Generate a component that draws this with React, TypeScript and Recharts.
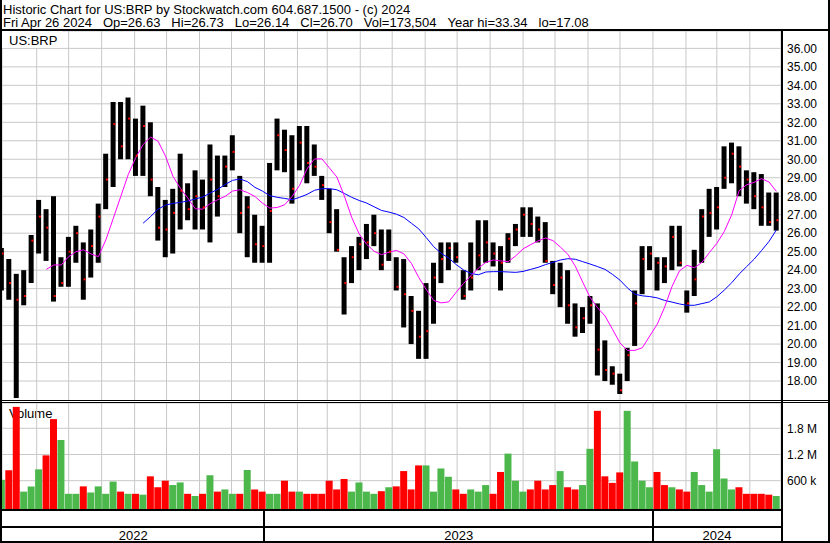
import React from "react";
import { Bar, CartesianGrid, Cell, ComposedChart, Line, XAxis, YAxis } from "recharts";

const FONT = '"Liberation Sans", Arial, sans-serif';

// one bar per week, week ending Friday 2022-04-29 ... 2024-04-26
const highs = [
  25.2, 24.6, 23.8, 24.0, 25.9, 27.8, 27.3, 28.0, 24.7, 25.8,
  26.4, 25.5, 26.2, 27.6, 30.3, 33.1, 33.1, 33.34, 32.2, 32.9,
  32.0, 28.5, 27.8, 28.4, 30.3, 28.7, 29.4, 28.9, 30.8, 30.2,
  30.2, 31.3, 29.1, 28.0, 27.0, 26.4, 29.8, 32.2, 31.6, 31.3,
  31.8, 31.8, 30.8, 29.1, 28.4, 27.3, 24.7, 25.3, 25.8, 26.5,
  27.0, 26.2, 26.2, 24.7, 24.6, 22.6, 21.8, 23.3, 24.4, 25.5,
  25.5, 25.5, 24.0, 25.5, 26.7, 26.7, 25.5, 25.3, 26.0, 26.5,
  27.4, 27.4, 26.9, 26.6, 24.5, 24.4, 24.0, 22.2, 22.0, 22.6,
  22.2, 20.2, 18.8, 18.4, 19.8, 22.9, 25.3, 25.3, 24.7, 24.7,
  26.4, 26.4, 22.9, 25.1, 27.3, 28.4, 28.5, 30.7, 30.9, 30.7,
  29.4, 29.3, 29.2, 28.2, 28.2,
];

const lows = [
  22.9, 22.4, 17.08, 22.1, 23.3, 24.9, 24.5, 22.3, 23.1, 23.1,
  24.4, 22.4, 23.6, 24.4, 27.3, 28.5, 30.0, 30.0, 29.1, 29.1,
  28.0, 25.6, 24.7, 24.9, 26.2, 26.7, 26.2, 26.2, 25.5, 26.9,
  28.5, 29.4, 26.0, 24.7, 24.4, 24.4, 24.4, 29.4, 29.3, 27.6,
  29.4, 28.7, 29.1, 27.8, 26.0, 25.0, 21.6, 23.3, 24.0, 24.6,
  25.3, 24.0, 24.5, 22.9, 20.9, 20.0, 19.2, 19.2, 21.1, 23.3,
  24.0, 24.4, 22.4, 22.9, 24.0, 24.4, 24.2, 22.9, 24.4, 25.3,
  25.8, 25.8, 25.5, 24.4, 22.7, 22.0, 21.1, 20.4, 20.6, 21.1,
  18.3, 18.0, 17.8, 17.3, 18.0, 19.9, 22.7, 24.0, 22.9, 23.3,
  24.0, 24.2, 21.7, 22.6, 24.4, 25.8, 26.2, 28.4, 28.7, 28.0,
  27.6, 27.3, 26.4, 26.4, 26.14,
];

const closes = [
  24.9, 23.3, 22.4, 22.6, 25.6, 26.9, 26.3, 22.6, 23.3, 25.0,
  26.0, 23.5, 25.3, 26.9, 28.9, 31.9, 30.7, 32.2, 30.2, 31.8,
  28.9, 26.3, 26.2, 27.1, 28.3, 27.3, 28.0, 27.4, 28.9, 28.0,
  29.6, 30.4, 27.1, 27.4, 25.4, 25.3, 27.2, 31.3, 30.5, 28.4,
  30.9, 29.8, 29.6, 28.6, 26.6, 25.1, 23.3, 24.7, 25.4, 25.5,
  26.0, 24.3, 25.0, 23.1, 22.7, 21.8, 20.4, 20.7, 23.6, 24.6,
  25.2, 24.7, 22.6, 23.6, 24.8, 25.5, 24.9, 24.4, 25.7, 26.2,
  27.0, 26.5, 26.2, 24.5, 23.2, 23.6, 22.1, 20.9, 21.4, 22.1,
  19.7, 18.6, 18.4, 17.5, 19.4, 22.2, 24.6, 24.9, 24.4, 24.2,
  25.8, 24.4, 22.2, 23.5, 26.9, 27.1, 27.4, 29.0, 30.3, 29.6,
  28.9, 28.0, 27.4, 26.6, 26.7,
];

// magenta moving average
const ma20 = [
  null, null, null, null, null, null, 24.04, 24.28, 24.28, 24.73,
  25.0, 25.1, 24.88, 24.73, 25.64, 26.81, 27.99, 29.17, 30.08, 30.8,
  31.2, 30.98, 30.17, 29.08, 28.43, 27.9, 27.32, 27.3, 27.6, 27.81,
  27.99, 28.28, 28.35, 28.2, 27.99, 27.63, 27.36, 27.39, 27.54, 27.99,
  28.59, 29.48, 30.02, 30.02, 29.53, 29.04, 28.02, 26.85, 25.96, 25.4,
  25.02, 24.84, 24.97, 25.07, 24.88, 24.37, 23.6, 22.95, 22.36, 22.23,
  22.28, 22.79, 23.28, 23.7, 24.11, 24.42, 24.55, 24.5, 24.46, 24.77,
  25.15, 25.38, 25.58, 25.74, 25.6, 25.25, 24.86, 24.22, 23.35, 22.52,
  21.96, 21.52, 20.8, 20.06, 19.66, 19.66, 19.8, 20.44, 21.07, 22.0,
  23.13, 23.97, 24.26, 24.13, 24.42, 24.95, 25.45, 26.09, 27.0, 28.3,
  28.62, 28.75, 28.95, 28.77, 28.26,
];

// blue moving average
const ma50 = [
  null, null, null, null, null, null, null, null, null, null,
  null, null, null, null, null, null, null, null, null, 26.54,
  26.9, 27.3, 27.52, 27.61, 27.67, 27.74, 27.85, 27.96, 28.17, 28.37,
  28.63, 28.86, 28.93, 28.79, 28.48, 28.28, 28.03, 27.94, 27.88, 27.81,
  27.94, 28.1, 28.32, 28.41, 28.41, 28.35, 28.15, 27.94, 27.77, 27.63,
  27.43, 27.23, 27.14, 27.03, 26.85, 26.54, 26.23, 25.76, 25.27, 24.91,
  24.66, 24.31, 24.01, 23.82, 23.75, 23.9, 23.92, 23.92, 23.9, 23.88,
  23.93, 24.04, 24.15, 24.3, 24.42, 24.55, 24.62, 24.59, 24.46, 24.33,
  24.19, 24.04, 23.77, 23.46, 23.04, 22.7, 22.61, 22.57, 22.5, 22.36,
  22.27, 22.17, 22.1, 22.1, 22.19, 22.28, 22.56, 22.92, 23.32, 23.79,
  24.19, 24.59, 25.06, 25.55, 26.18,
];

// thousands of shares
const volumes = [
  620, 840, 2290, 350, 470, 860, 1180, 2010, 1530, 300,
  300, 470, 330, 470, 300, 580, 350, 300, 300, 280,
  700, 450, 600, 500, 560, 300, 250, 300, 725, 350,
  400, 300, 300, 845, 400, 350, 300, 300, 600, 350,
  350, 300, 300, 300, 600, 400, 640, 350, 560, 350,
  300, 360, 450, 470, 820, 400, 950, 950, 350, 880,
  690, 400, 300, 400, 350, 500, 300, 800, 1220, 600,
  350, 400, 600, 400, 500, 820, 450, 400, 500, 1330,
  2200, 700, 550, 790, 2200, 1040, 600, 450, 800, 500,
  450, 400, 350, 800, 500, 350, 1320, 650, 400, 450,
  300, 300, 300, 280, 250,
];

const priceTicks = [18, 19, 20, 21, 22, 23, 24, 25, 26, 27, 28, 29, 30, 31, 32, 33, 34, 35, 36];
const volTicks = [600000, 1200000, 1800000];
const volLabels: Record<number, string> = { 600000: "600 k", 1200000: "1.2 M", 1800000: "1.8 M" };
const years = [2022, 2023, 2024];

const dayOf = (y: number, m: number, d: number) =>
  (Date.UTC(y, m - 1, d) - Date.UTC(2022, 3, 26)) / 86400000;

const X_DOMAIN: [number, number] = [3.4, 735.3];
const PRICE_DOMAIN: [number, number] = [16.92, 36.94];
const VOL_DOMAIN: [number, number] = [-48000, 2379000];

// first of each month, May 2022 .. Apr 2024
const monthDays: number[] = [];
for (let i = 0; i < 24; i++) {
  const m0 = 4 + i;
  monthDays.push(dayOf(2022 + Math.floor(m0 / 12), (m0 % 12) + 1, 1));
}

const yearMids = years.map((y) => {
  const a = Math.max(X_DOMAIN[0], dayOf(y, 1, 1));
  const b = Math.min(X_DOMAIN[1], dayOf(y + 1, 1, 1));
  return (a + b) / 2;
});

const rows = highs.map((h, i) => ({
  day: dayOf(2022, 4, 29) + 7 * i,
  range: [lows[i], h],
  close: closes[i],
  ma20: ma20[i],
  ma50: ma50[i],
  vol: volumes[i] * 1000,
  up: i === 0 || closes[i] >= closes[i - 1],
}));

const xPix = (d: number) => 2 + ((d - X_DOMAIN[0]) / (X_DOMAIN[1] - X_DOMAIN[0])) * 779;

const PriceTick = (p: any) => (
  <text x={787} y={p.y} dy={4.3} fontSize={12} fontFamily={FONT} fill="#000">
    {Number(p.payload.value).toFixed(2)}
  </text>
);

const VolTick = (p: any) => (
  <text x={787} y={p.y} dy={4.3} fontSize={12} fontFamily={FONT} fill="#000">
    {volLabels[p.payload.value]}
  </text>
);

const YearTick = (p: any) => {
  const i = yearMids.indexOf(p.payload.value);
  return (
    <text x={p.x} y={136.5} textAnchor="middle" fontSize={13} fontFamily={FONT} fill="#000">
      {years[i]}
    </text>
  );
};

const CloseMark = (p: any) =>
  p.cy == null ? <g key={p.index} /> : <rect key={p.index} x={p.cx} y={p.cy - 1} width={2} height={2} fill="#ff0000" />;

const line = (s: React.CSSProperties) => (
  <div style={{ position: "absolute", background: "#000", ...s }} />
);

export default function App() {
  const hdr = ["Fri Apr 26 2024", "Op=26.63", "Hi=26.73", "Lo=26.14", "Cl=26.70", "Vol=173,504", "Year hi=33.34", "lo=17.08"];
  return (
    <div style={{ position: "absolute", left: 0, top: 0, width: 830, height: 543, background: "#fff", fontFamily: FONT, overflow: "hidden" }}>
      <div style={{ position: "absolute", left: 3, top: 2.5, fontSize: 13, lineHeight: "13px", whiteSpace: "pre" }}>
        Historic Chart for US:BRP by Stockwatch.com 604.687.1500 - (c) 2024
      </div>
      <div style={{ position: "absolute", left: 3, top: 15.9, fontSize: 13, lineHeight: "13px", whiteSpace: "pre", display: "flex", gap: 11 }}>
        {hdr.map((t) => <span key={t}>{t}</span>)}
      </div>

      <div style={{ position: "absolute", left: 0, top: 0 }}>
        <ComposedChart width={830} height={401} data={rows} margin={{ top: 31, right: 0, bottom: 0, left: 2 }}>
          <CartesianGrid stroke="#c8c8c8" />
          <XAxis dataKey="day" type="number" domain={X_DOMAIN} ticks={monthDays} allowDataOverflow hide />
          <YAxis orientation="right" width={49} domain={PRICE_DOMAIN} ticks={priceTicks} interval={0}
            allowDataOverflow axisLine={false} tickLine={false} tick={PriceTick} />
          <Bar dataKey="range" fill="#000" barSize={5} isAnimationActive={false} />
          <Line dataKey="ma50" stroke="#0000ff" strokeWidth={1} dot={false} activeDot={false} isAnimationActive={false} />
          <Line dataKey="ma20" stroke="#ff00ff" strokeWidth={1} dot={false} activeDot={false} isAnimationActive={false} />
          <Line dataKey="close" stroke="none" dot={CloseMark} activeDot={false} isAnimationActive={false} />
        </ComposedChart>
      </div>
      <div style={{ position: "absolute", left: 2, top: 31, width: 60, height: 17, background: "#fff" }} />
      <div style={{ position: "absolute", left: 9, top: 34.2, fontSize: 13, lineHeight: "13px" }}>US:BRP</div>

      <div style={{ position: "absolute", left: 9, top: 406.9, fontSize: 13, lineHeight: "13px" }}>Volume</div>
      <div style={{ position: "absolute", left: 0, top: 403 }}>
        <ComposedChart width={830} height={140} data={rows} margin={{ top: 0, right: 0, bottom: 0, left: 2 }}>
          <CartesianGrid stroke="#c8c8c8" />
          <XAxis dataKey="day" type="number" domain={X_DOMAIN} ticks={monthDays} allowDataOverflow hide />
          <XAxis xAxisId="yr" dataKey="day" type="number" domain={X_DOMAIN} ticks={yearMids} interval={0}
            allowDataOverflow height={34} axisLine={false} tickLine={false} tick={YearTick} />
          <YAxis orientation="right" width={49} domain={VOL_DOMAIN} ticks={volTicks} interval={0}
            allowDataOverflow axisLine={false} tickLine={false} tick={VolTick} />
          <Bar dataKey={(r: any) => [VOL_DOMAIN[0], r.vol]} barSize={7} isAnimationActive={false}>
            {rows.map((r, i) => (
              <Cell key={i} fill={r.up ? "#4cb84c" : "#ff0000"} />
            ))}
          </Bar>
        </ComposedChart>
      </div>

      {line({ left: 0, top: 0, width: 2, height: 543 })}
      {line({ left: 828, top: 0, width: 2, height: 543 })}
      {line({ left: 0, top: 29, width: 830, height: 2 })}
      {line({ left: 0, top: 400, width: 830, height: 1 })}
      {line({ left: 0, top: 402, width: 830, height: 1 })}
      {line({ left: 0, top: 509, width: 782, height: 2 })}
      {line({ left: 0, top: 526, width: 782, height: 2 })}
      {line({ left: 0, top: 541, width: 830, height: 2 })}
      {line({ left: 781, top: 29, width: 2, height: 514 })}
      {[dayOf(2023, 1, 1), dayOf(2024, 1, 1)].map((d) => (
        <div key={d} style={{ position: "absolute", background: "#000", left: Math.round(xPix(d)) - 1, top: 509, width: 2, height: 33 }} />
      ))}
    </div>
  );
}
